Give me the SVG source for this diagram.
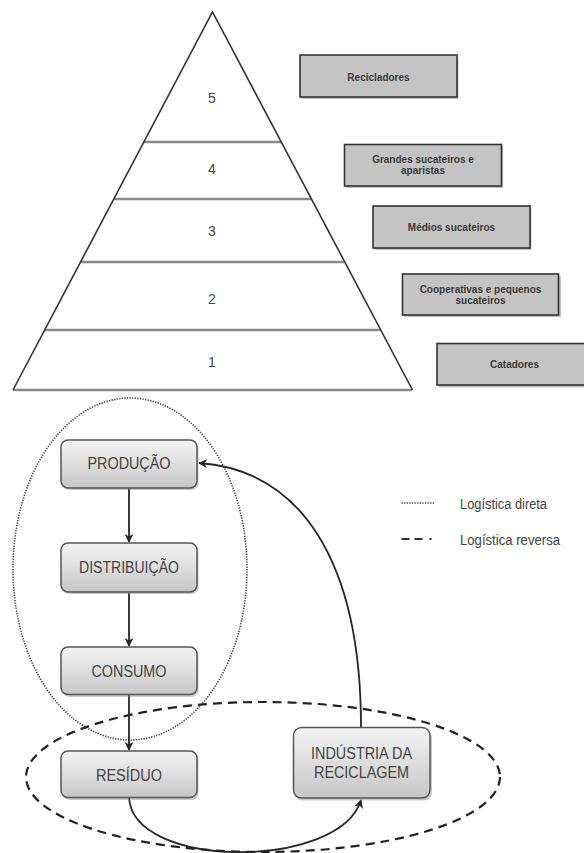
<svg xmlns="http://www.w3.org/2000/svg" width="584" height="853" viewBox="0 0 584 853">
<style>
  .pyr { fill: none; stroke: #333; stroke-width: 1.6; stroke-linejoin: miter; }
  .lvl { stroke: #8a8a8a; stroke-width: 2.4; }
  .num { font-family: "Liberation Sans", Arial, sans-serif; font-size: 14px; fill: #444; text-anchor: middle; }
  .gbox { fill: #c4c4c4; stroke: #333; stroke-width: 1.6; }
  .gsh { fill: #777; opacity: 0.45; }
  .gtxt { font-family: "Liberation Sans", Arial, sans-serif; font-size: 10px; font-weight: bold; fill: #3a3a3a; text-anchor: middle; }
  .node { fill: url(#ng); stroke: #555; stroke-width: 1.5; }
  .nsh { fill: #888; opacity: 0.45; }
  .ntxt { font-family: "Liberation Sans", Arial, sans-serif; font-size: 16px; fill: #444; text-anchor: middle; }
  .edge { fill: none; stroke: #262626; stroke-width: 1.8; }
  .dotted { fill: none; stroke: #444; stroke-width: 1.6; stroke-dasharray: 1.3 1.3; }
  .dashed { fill: none; stroke: #222; stroke-width: 2.2; stroke-dasharray: 9 6; }
  .leg { font-family: "Liberation Sans", Arial, sans-serif; font-size: 14px; fill: #444; }
</style>
<defs>
  <linearGradient id="ng" x1="0" y1="0" x2="0" y2="1">
    <stop offset="0" stop-color="#f4f4f4"/>
    <stop offset="1" stop-color="#c6c6c6"/>
  </linearGradient>
  <marker id="arr" viewBox="0 0 10 10" refX="9" refY="5" markerWidth="9" markerHeight="9" markerUnits="userSpaceOnUse" orient="auto">
    <path d="M0,0 L10,5 L0,10 L3,5 z" fill="#262626"/>
  </marker>
</defs>

<!-- Pyramid -->
<g id="pyramid">
  <line class="lvl" x1="144" y1="142" x2="281" y2="142"/>
  <line class="lvl" x1="114" y1="199" x2="311" y2="199"/>
  <line class="lvl" x1="81" y1="262" x2="344" y2="262"/>
  <line class="lvl" x1="45" y1="330" x2="380" y2="330"/>
  <line class="lvl" x1="13" y1="390" x2="412" y2="390"/>
  <path class="pyr" d="M13,390 L212.5,12 L412.5,390"/>
  <text class="num" x="212" y="103">5</text>
  <text class="num" x="212" y="174">4</text>
  <text class="num" x="212" y="236">3</text>
  <text class="num" x="212" y="304">2</text>
  <text class="num" x="212" y="367">1</text>
</g>

<g id="recicladores">
  <rect class="gsh" x="301.5" y="57" width="157" height="42"/>
  <rect class="gbox" x="300" y="55" width="157" height="42"/>
  <text class="gtxt" x="378.5" y="80.5">Recicladores</text>
</g>
<g id="grandes">
  <rect class="gsh" x="346" y="146" width="157" height="42"/>
  <rect class="gbox" x="344.5" y="144.5" width="157" height="41.5"/>
  <text class="gtxt" x="423" y="162.5">Grandes sucateiros e</text>
  <text class="gtxt" x="423" y="174">aparistas</text>
</g>
<g id="medios">
  <rect class="gsh" x="374.5" y="208" width="157" height="42"/>
  <rect class="gbox" x="373" y="206" width="157" height="42"/>
  <text class="gtxt" x="451.5" y="230.5">Médios sucateiros</text>
</g>
<g id="cooperativas">
  <rect class="gsh" x="404" y="276" width="157" height="41"/>
  <rect class="gbox" x="402.5" y="274" width="156" height="41"/>
  <text class="gtxt" x="480.5" y="292.5">Cooperativas e pequenos</text>
  <text class="gtxt" x="480.5" y="304">sucateiros</text>
</g>
<g id="catadores">
  <rect class="gsh" x="438.5" y="345.5" width="160" height="42"/>
  <rect class="gbox" x="437" y="343.5" width="160" height="41.5"/>
  <text class="gtxt" x="514.5" y="367.5">Catadores</text>
</g>

<!-- Logistics regions -->
<g id="regions">
  <ellipse class="dotted" cx="130" cy="569" rx="117" ry="171"/>
  <ellipse class="dashed" cx="263" cy="777" rx="237" ry="75"/>
</g>

<!-- Connectors -->
<g id="connectors">
  <line class="edge" x1="129" y1="488" x2="129" y2="542" marker-end="url(#arr)"/>
  <line class="edge" x1="129" y1="593" x2="129" y2="646" marker-end="url(#arr)"/>
  <line class="edge" x1="129" y1="694" x2="129" y2="750" marker-end="url(#arr)"/>
  <path class="edge" d="M361,727 C361,560 300,470 199,463" marker-end="url(#arr)"/>
  <path class="edge" d="M129,797 C132,870 340,870 361,800" marker-end="url(#arr)"/>
</g>

<!-- Flow nodes -->
<g id="producao">
  <rect class="nsh" x="62.5" y="442" width="136" height="48" rx="7"/>
  <rect class="node" x="61" y="440" width="136" height="48" rx="7"/>
  <text class="ntxt" x="129" y="469" textLength="83" lengthAdjust="spacingAndGlyphs">PRODUÇÃO</text>
</g>
<g id="distribuicao">
  <rect class="nsh" x="62.5" y="545" width="136" height="49" rx="7"/>
  <rect class="node" x="61" y="543" width="136" height="49" rx="7"/>
  <text class="ntxt" x="129" y="573" textLength="100" lengthAdjust="spacingAndGlyphs">DISTRIBUIÇÃO</text>
</g>
<g id="consumo">
  <rect class="nsh" x="62.5" y="649" width="136" height="48" rx="7"/>
  <rect class="node" x="61" y="647" width="136" height="47.5" rx="7"/>
  <text class="ntxt" x="129" y="676.5" textLength="75" lengthAdjust="spacingAndGlyphs">CONSUMO</text>
</g>
<g id="residuo">
  <rect class="nsh" x="62.5" y="753" width="136" height="47" rx="7"/>
  <rect class="node" x="61" y="751" width="136" height="46.5" rx="7"/>
  <text class="ntxt" x="129" y="780.5" textLength="66" lengthAdjust="spacingAndGlyphs">RESÍDUO</text>
</g>
<g id="industria">
  <rect class="nsh" x="295" y="729.5" width="137" height="71" rx="8"/>
  <rect class="node" x="293.5" y="727.5" width="136.5" height="70.5" rx="8"/>
  <text class="ntxt" x="361.5" y="759" textLength="101" lengthAdjust="spacingAndGlyphs">INDÚSTRIA DA</text>
  <text class="ntxt" x="361.5" y="777.5" textLength="95" lengthAdjust="spacingAndGlyphs">RECICLAGEM</text>
</g>

<!-- Legend -->
<g id="legend">
  <line x1="401.5" y1="503" x2="435" y2="503" stroke="#444" stroke-width="1.5" stroke-dasharray="1.3 1.3"/>
  <text class="leg" x="460" y="508.5" textLength="87" lengthAdjust="spacingAndGlyphs">Logística direta</text>
  <line x1="401.5" y1="539" x2="436" y2="539" stroke="#333" stroke-width="2.2" stroke-dasharray="8 5 8 7 2 20"/>
  <text class="leg" x="460" y="545" textLength="100" lengthAdjust="spacingAndGlyphs">Logística reversa</text>
</g>
</svg>
